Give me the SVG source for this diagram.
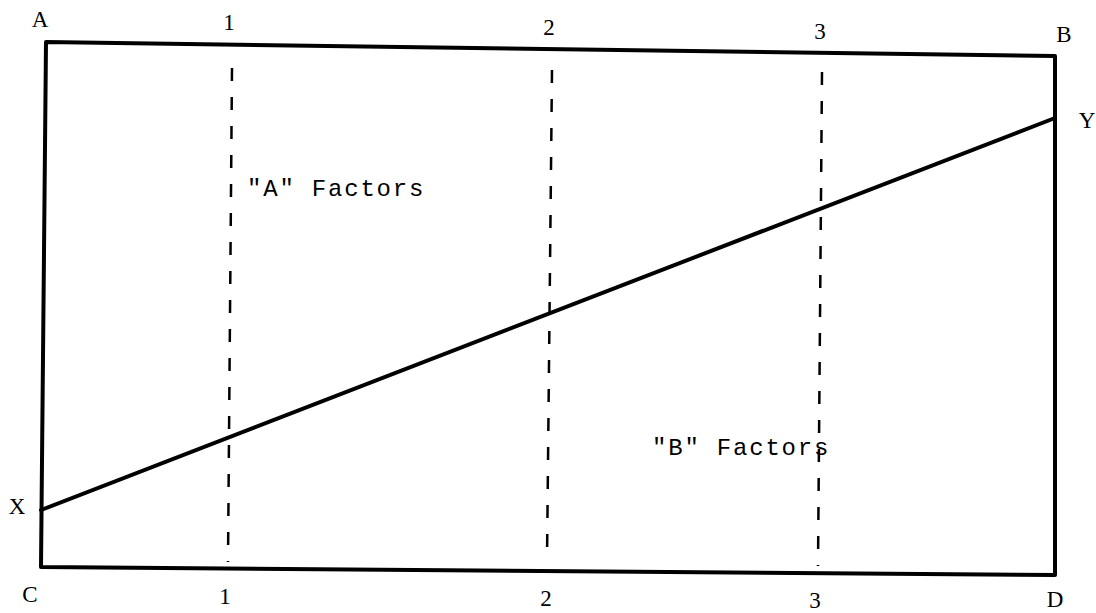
<svg xmlns="http://www.w3.org/2000/svg" width="1096" height="613" viewBox="0 0 1096 613">
<style>
.frame{fill:none;stroke:#000;stroke-width:4;stroke-linejoin:round;stroke-linecap:round}
.main{fill:none;stroke:#000;stroke-width:4;stroke-linecap:round}
.dash{fill:none;stroke:#000;stroke-width:2.5;stroke-dasharray:13 16}
.lbl{font-family:"Liberation Serif","DejaVu Serif",serif;font-size:23px;fill:#000;text-anchor:middle;dominant-baseline:central}
.txt{font-family:"Liberation Mono","Courier New",monospace;font-size:24px;fill:#000;letter-spacing:1.8px}
</style>
<rect width="1096" height="613" fill="#fff"/>
<g id="frame">
<path class="frame" d="M46,42 L1055,56 L1055,575 L41,567 Z"/>
</g>
<g id="connectors">
<line class="main" x1="41" y1="510" x2="1055" y2="118"/>
<line class="dash" x1="232" y1="68" x2="228" y2="562"/>
<line class="dash" x1="552" y1="70" x2="547" y2="562"/>
<line class="dash" x1="822" y1="72" x2="818" y2="566"/>
</g>
<g id="labels">
<text class="lbl" x="40" y="19">A</text>
<text class="lbl" x="229" y="22">1</text>
<text class="lbl" x="549" y="27">2</text>
<text class="lbl" x="820" y="31">3</text>
<text class="lbl" x="1064" y="34">B</text>
<text class="lbl" x="1087" y="120">Y</text>
<text class="lbl" x="17" y="506">X</text>
<text class="lbl" x="30" y="594">C</text>
<text class="lbl" x="225" y="596">1</text>
<text class="lbl" x="546" y="598">2</text>
<text class="lbl" x="815" y="600">3</text>
<text class="lbl" x="1055" y="599">D</text>
</g>
<g id="nodeA">
<text class="txt" x="247" y="196">"A" Factors</text>
</g>
<g id="nodeB">
<text class="txt" x="652" y="455">"B" Factors</text>
</g>
</svg>
